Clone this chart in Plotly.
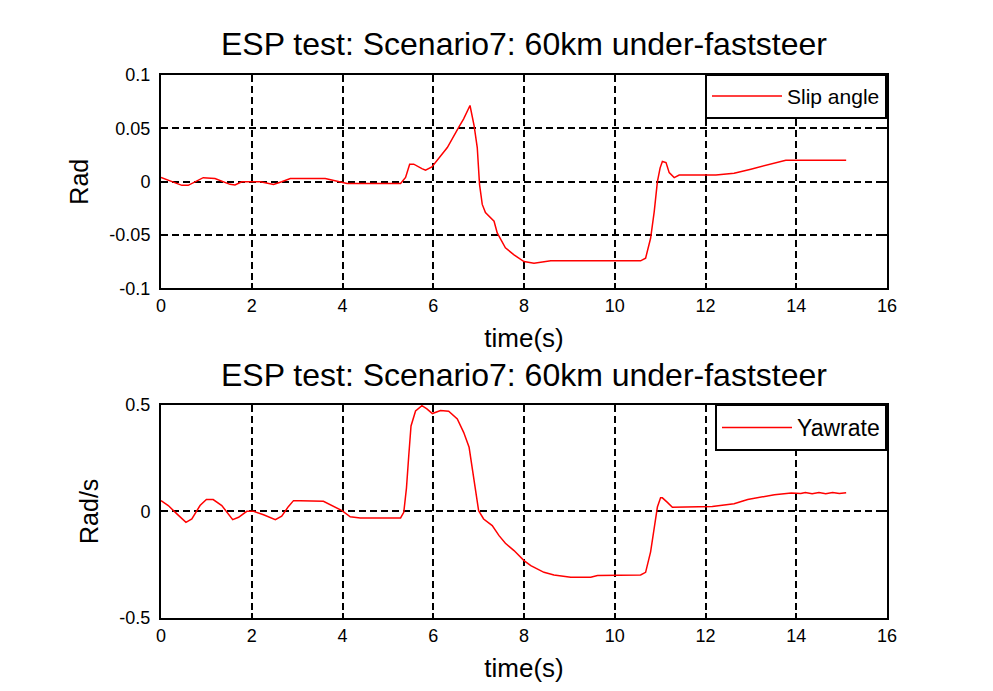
import plotly.graph_objects as go
from plotly.subplots import make_subplots

title_text = "ESP test: Scenario7: 60km under-faststeer"

slip_t = [0, 0.16, 0.46, 0.6, 0.75, 0.93, 1.19, 1.52, 1.63, 1.78, 2.19, 2.48, 2.66, 2.85, 3.62,
          3.99, 4.1, 5.28, 5.39, 5.48, 5.57, 5.75, 5.83, 5.97, 6.31, 6.56, 6.67, 6.81, 6.9, 6.97,
          7.02, 7.08, 7.15, 7.34, 7.41, 7.59, 7.78, 8.0, 8.22, 8.59, 10.57, 10.68, 10.79, 10.87,
          10.94, 11.0, 11.05, 11.13, 11.2, 11.31, 11.42, 12.23, 12.63, 13.0, 13.52, 13.77, 15.1]
slip_v = [0.004, 0.0013, -0.0034, -0.0034, 0.0, 0.0038, 0.003, -0.0025, -0.003, 0.0, 0.0, -0.0025,
          0.0, 0.003, 0.003, 0.0, -0.0016, -0.0016, 0.004, 0.0164, 0.0164, 0.0123, 0.0107, 0.0139,
          0.032, 0.051, 0.0589, 0.0714, 0.0525, 0.032, -0.0025, -0.0213, -0.029, -0.037, -0.048,
          -0.062, -0.0685, -0.0748, -0.0764, -0.0742, -0.0742, -0.0717, -0.053, -0.028, 0.0, 0.013,
          0.019, 0.018, 0.0085, 0.0038, 0.0063, 0.0063, 0.0079, 0.0117, 0.017, 0.0202, 0.0202]

yaw_t = [0, 0.16, 0.35, 0.55, 0.68, 0.86, 1.0, 1.15, 1.34, 1.58, 1.71, 1.89, 2.04, 2.26, 2.52, 2.66,
         2.81, 2.92, 3.07, 3.58, 3.99, 4.17, 4.39, 5.28, 5.35, 5.41, 5.46, 5.51, 5.61, 5.72, 5.75,
         5.86, 5.98, 6.16, 6.34, 6.53, 6.67, 6.79, 6.86, 6.93, 7.0, 7.11, 7.3, 7.45, 7.59, 7.78,
         8.0, 8.15, 8.44, 8.66, 9.03, 9.47, 9.62, 10.57, 10.68, 10.79, 10.87, 10.94, 11.01, 11.05,
         11.16, 11.27, 12.15, 12.63, 12.93, 13.22, 13.52, 13.89, 14.1, 14.2, 14.35, 14.5, 14.65,
         14.8, 14.95, 15.1]
yaw_v = [0.05, 0.027, -0.012, -0.0515, -0.036, 0.027, 0.055, 0.055, 0.027, -0.039, -0.028, 0.0,
         0.0, -0.016, -0.039, -0.023, 0.023, 0.05, 0.05, 0.047, 0.003, -0.026, -0.031, -0.031,
         -0.005, 0.11, 0.26, 0.40, 0.47, 0.491, 0.495, 0.48, 0.458, 0.472, 0.469, 0.433, 0.37,
         0.3, 0.206, 0.097, 0.003, -0.036, -0.067, -0.114, -0.15, -0.184, -0.231, -0.255, -0.286,
         -0.298, -0.309, -0.309, -0.301, -0.298, -0.286, -0.19, -0.08, 0.02, 0.063, 0.063, 0.042,
         0.019, 0.023, 0.035, 0.055, 0.066, 0.078, 0.086, 0.083, 0.088, 0.082, 0.088, 0.082,
         0.088, 0.083, 0.087]

x_ticks = [0, 2, 4, 6, 8, 10, 12, 14, 16]
y1_ticks = [-0.1, -0.05, 0, 0.05, 0.1]
y1_labels = ["-0.1", "-0.05", "0", "0.05", "0.1"]
y2_ticks = [-0.5, 0, 0.5]
y2_labels = ["-0.5", "0", "0.5"]

FONT = "Liberation Sans, Arial, sans-serif"

fig = make_subplots(rows=2, cols=1, vertical_spacing=0.214)
fig.add_trace(go.Scatter(x=slip_t, y=slip_v, mode="lines", name="Slip angle",
                         line=dict(color="#ff0000", width=1.5), legend="legend"), row=1, col=1)
fig.add_trace(go.Scatter(x=yaw_t, y=yaw_v, mode="lines", name="Yawrate",
                         line=dict(color="#ff0000", width=1.5), legend="legend2"), row=2, col=1)

axis_common = dict(showline=True, linecolor="black", linewidth=2, mirror="ticks",
                   ticks="inside", ticklen=5, tickcolor="black", tickwidth=1.5,
                   showgrid=True, gridcolor="black", gridwidth=2, griddash="7px,4px",
                   zeroline=False, tickfont=dict(size=18, color="black", family=FONT))

for r in (1, 2):
    fig.update_xaxes(range=[0, 16], tickvals=x_ticks, ticktext=[str(v) for v in x_ticks],
                     title=dict(text="time(s)", font=dict(size=26, color="black", family=FONT),
                                standoff=14),
                     **axis_common, row=r, col=1)

fig.update_yaxes(range=[-0.1, 0.1], tickvals=y1_ticks, ticktext=y1_labels, ticklabelstandoff=5,
                 title=dict(text="Rad", font=dict(size=25, color="black", family=FONT), standoff=14),
                 **axis_common, row=1, col=1)
fig.update_yaxes(range=[-0.5, 0.5], tickvals=y2_ticks, ticktext=y2_labels, ticklabelstandoff=5,
                 title=dict(text="Rad/s", font=dict(size=25, color="black", family=FONT), standoff=14),
                 **axis_common, row=2, col=1)

fig.update_layout(
    width=993, height=691,
    margin=dict(l=153, r=114, t=67, b=81),
    paper_bgcolor="white", plot_bgcolor="white",
    font=dict(family=FONT, color="black"),
    showlegend=True,
    legend=dict(x=1, y=1.002, xanchor="right", yanchor="top", bgcolor="white",
                bordercolor="black", borderwidth=2, itemwidth=70,
                font=dict(size=21, color="black", family=FONT)),
    legend2=dict(x=1, y=0.394, xanchor="right", yanchor="top", bgcolor="white",
                 bordercolor="black", borderwidth=2, itemwidth=70,
                 font=dict(size=23, color="black", family=FONT)),
    annotations=[
        dict(text=title_text, x=0.5, y=1.057, xref="paper", yref="paper", showarrow=False,
             xanchor="center", yanchor="middle", font=dict(size=32, color="black", family=FONT)),
        dict(text=title_text, x=0.5, y=0.4475, xref="paper", yref="paper", showarrow=False,
             xanchor="center", yanchor="middle", font=dict(size=32, color="black", family=FONT)),
    ],
)

fig.write_html("out.html")
